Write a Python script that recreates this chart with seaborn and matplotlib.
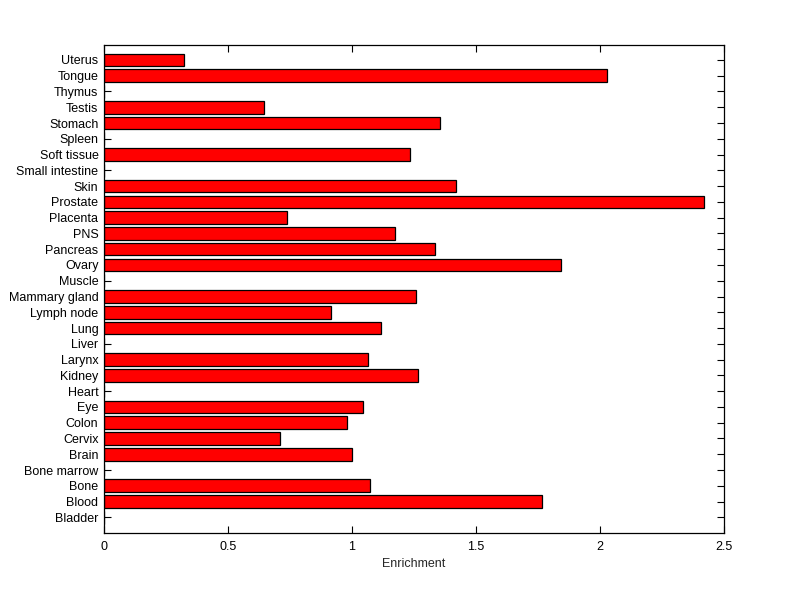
import matplotlib
matplotlib.use("Agg")
import matplotlib.pyplot as plt
import seaborn as sns
import pandas as pd

categories = ["Bladder", "Blood", "Bone", "Bone marrow", "Brain", "Cervix", "Colon", "Eye",
              "Heart", "Kidney", "Larynx", "Liver", "Lung", "Lymph node", "Mammary gland",
              "Muscle", "Ovary", "Pancreas", "PNS", "Placenta", "Prostate", "Skin",
              "Small intestine", "Soft tissue", "Spleen", "Stomach", "Testis", "Thymus",
              "Tongue", "Uterus"]
enrichment = [0.0, 1.768, 1.071, 0.0, 1.0, 0.71, 0.98, 1.044,
              0.0, 1.266, 1.065, 0.0, 1.117, 0.915, 1.258,
              0.0, 1.843, 1.335, 1.173, 0.738, 2.419, 1.419,
              0.0, 1.234, 0.0, 1.355, 0.645, 0.0,
              2.028, 0.323]
xticks = [0, 0.5, 1, 1.5, 2, 2.5]
xticklabels = ["0", "0.5", "1", "1.5", "2", "2.5"]

sns.set_style("white")
plt.rcParams['font.family'] = ['Liberation Sans', 'DejaVu Sans']

df = pd.DataFrame({"cat": categories, "val": enrichment})
order = categories[::-1]  # top to bottom

fig = plt.figure(figsize=(8, 5.99), dpi=100)
ax = fig.add_axes([0.13, 0.110, 0.775, 0.815])
sns.barplot(data=df, y="cat", x="val", order=order, orient="h", color="#ff0000",
            edgecolor="black", linewidth=0.9, width=0.8, saturation=1, ax=ax)

ax.set_xlim(0, 2.5)
ax.set_ylim(len(categories), -0.95)
ax.set_xticks(xticks)
ax.set_xticklabels(xticklabels)
ax.set_xlabel("Enrichment", fontsize=9)
ax.set_ylabel("")
ax.tick_params(axis="both", which="both", direction="in", length=5, width=0.8,
               top=True, right=True, bottom=True, left=True, labelsize=9, pad=4,
               colors="black")
ax.tick_params(axis="x", pad=6)
ax.xaxis.labelpad = 3
for s in ax.spines.values():
    s.set_visible(True)
    s.set_color("black")
    s.set_linewidth(0.9)

fig.savefig("out.png", dpi=100, facecolor="white")
